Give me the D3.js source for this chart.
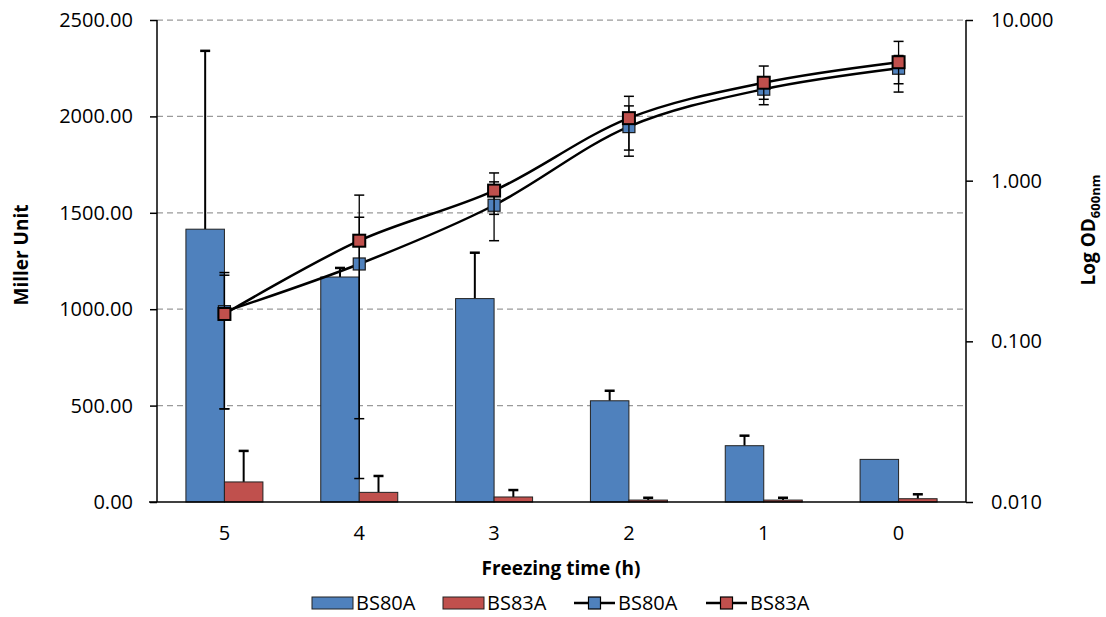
<!DOCTYPE html>
<html><head><meta charset="utf-8">
<script src="https://cdn.jsdelivr.net/npm/d3@7"></script>
<style>
html,body{margin:0;padding:0;background:#fff;}
text{font-family:"Open Sans",sans-serif;fill:#000;}
</style></head>
<body>
<svg id="chart" width="1106" height="617"></svg>
<script>
// ---- data ----
const categories = ["5", "4", "3", "2", "1", "0"];
const millerTicks = [0, 500, 1000, 1500, 2000, 2500];
const odTicks = [0.01, 0.1, 1, 10];
const bs80aMiller = [1415, 1167, 1055, 525, 292, 221];
const bs80aMillerErr = [925, 47, 238, 52, 52, 0];
const bs83aMiller = [104, 50, 26, 10, 10, 17];
const bs83aMillerErr = [161, 85, 36, 12, 12, 23];
const bs80aOD = [0.153, 0.303, 0.703, 2.17, 3.71, 5.01];
const bs80aODErr = [0.115, 0.289, 0.28, 0.75, 0.5, 1.0];
const bs83aOD = [0.148, 0.423, 0.867, 2.45, 4.07, 5.46];
const bs83aODErr = [0.11, 0.39, 0.25, 0.9, 1.1, 1.9];
const seriesNames = ["BS80A", "BS83A"];

const BLUE = "#4F81BD", RED = "#C0504D";
const svg = d3.select("#chart");
const L = 157, R = 966, T = 20, B = 502;

const x = d3.scaleBand().domain(categories).range([L, R]);
const yL = d3.scaleLinear().domain([0, 2500]).range([B, T]);
const yR = d3.scaleLog().domain([0.01, 10]).range([B, T]);

// gridlines
svg.append("g").selectAll("line").data(millerTicks.filter(d => d > 0)).join("line")
  .attr("x1", L).attr("x2", R).attr("y1", d => yL(d)).attr("y2", d => yL(d))
  .attr("stroke", "#9a9a9a").attr("stroke-width", 1.25).attr("stroke-dasharray", "6,4");

// bars
const barW = 38.5;
const bars = svg.append("g");
function drawBars(vals, errs, color, offset) {
  const g = bars.append("g");
  categories.forEach((c, i) => {
    const cx = x(c) + x.bandwidth() / 2;
    const x0 = cx + offset;
    if (errs[i] > 0) {
      g.append("line").attr("x1", x0 + barW / 2).attr("x2", x0 + barW / 2)
        .attr("y1", yL(vals[i])).attr("y2", yL(vals[i] + errs[i]))
        .attr("stroke", "#000").attr("stroke-width", 2);
      g.append("line").attr("x1", x0 + barW / 2 - 5).attr("x2", x0 + barW / 2 + 5)
        .attr("y1", yL(vals[i] + errs[i])).attr("y2", yL(vals[i] + errs[i]))
        .attr("stroke", "#000").attr("stroke-width", 2.5);
    }
    g.append("rect").attr("x", x0).attr("width", barW)
      .attr("y", yL(vals[i])).attr("height", B - yL(vals[i]))
      .attr("fill", color).attr("stroke", "#222").attr("stroke-width", 1);
  });
}
drawBars(bs80aMiller, bs80aMillerErr, BLUE, -barW);
drawBars(bs83aMiller, bs83aMillerErr, RED, 0);

// axes
const axL = svg.append("g").attr("transform", `translate(${L},0)`)
  .call(d3.axisLeft(yL).tickValues(millerTicks).tickFormat(d3.format(".2f")).tickSize(7).tickPadding(17));
const axR = svg.append("g").attr("transform", `translate(${R},0)`)
  .call(d3.axisRight(yR).tickValues(odTicks).tickFormat(d3.format(".3f")).tickSize(7).tickPadding(18));
const axB = svg.append("g").attr("transform", `translate(0,${B})`)
  .call(d3.axisBottom(x).tickSize(0).tickPadding(24));
[axL, axR, axB].forEach(a => {
  a.select(".domain").attr("stroke", "#000").attr("stroke-width", 1.5);
  a.selectAll(".tick line").attr("stroke", "#000").attr("stroke-width", 1.5);
  a.selectAll(".tick text").attr("font-size", 20).attr("font-family", "Open Sans").attr("fill", "#000");
});
axL.select(".domain").attr("d", `M0,${T}V${B}`);
axR.select(".domain").attr("d", `M0,${T}V${B}`);
axB.select(".domain").attr("d", `M${L - 8},0H${R}`);

// lines
const line = d3.line().x((d, i) => x(categories[i]) + x.bandwidth() / 2).y(d => yR(d))
  .curve(d3.curveCatmullRom.alpha(0.5));
function drawLine(vals, errs, color, mstroke, msw) {
  const g = svg.append("g");
  g.append("path").datum(vals).attr("d", line).attr("fill", "none")
    .attr("stroke", "#000").attr("stroke-width", 2.5);
  categories.forEach((c, i) => {
    const cx = x(c) + x.bandwidth() / 2;
    const hi = vals[i] + errs[i], lo = vals[i] - errs[i];
    g.append("line").attr("x1", cx).attr("x2", cx).attr("y1", yR(hi)).attr("y2", yR(lo))
      .attr("stroke", "#000").attr("stroke-width", 1.3);
    [hi, lo].forEach(v => g.append("line").attr("x1", cx - 5).attr("x2", cx + 5)
      .attr("y1", yR(v)).attr("y2", yR(v)).attr("stroke", "#000").attr("stroke-width", 1.5));
  });
  g.selectAll("rect").data(vals).join("rect")
    .attr("x", (d, i) => x(categories[i]) + x.bandwidth() / 2 - 6)
    .attr("y", d => yR(d) - 6).attr("width", 12).attr("height", 12)
    .attr("fill", color).attr("stroke", mstroke).attr("stroke-width", msw);
}
drawLine(bs80aOD, bs80aODErr, BLUE, "#1a1a1a", 1.2);
drawLine(bs83aOD, bs83aODErr, RED, "#000", 2);

// titles
svg.append("text").attr("transform", "translate(28,255) rotate(-90)")
  .attr("text-anchor", "middle").attr("font-size", 19).attr("font-weight", "bold").text("Miller Unit");
const rt = svg.append("text").attr("transform", "translate(1095,230) rotate(-90)")
  .attr("text-anchor", "middle").attr("font-size", 19).attr("font-weight", "bold");
rt.append("tspan").text("Log OD");
rt.append("tspan").attr("font-size", 13).attr("dy", 5).text("600nm");
svg.append("text").attr("x", 561).attr("y", 575).attr("text-anchor", "middle")
  .attr("font-size", 19).attr("font-weight", "bold").text("Freezing time (h)");

// legend
const lg = svg.append("g");
const ly = 603;
const legendItems = [
  {type: "bar", color: BLUE, name: seriesNames[0], x: 312},
  {type: "bar", color: RED, name: seriesNames[1], x: 443},
  {type: "line", color: BLUE, name: seriesNames[0], x: 574},
  {type: "line", color: RED, name: seriesNames[1], x: 706}
];
legendItems.forEach(it => {
  if (it.type === "bar") {
    lg.append("rect").attr("x", it.x).attr("y", ly - 6).attr("width", 41).attr("height", 12)
      .attr("fill", it.color).attr("stroke", "#222").attr("stroke-width", 1);
  } else {
    lg.append("line").attr("x1", it.x).attr("x2", it.x + 41).attr("y1", ly).attr("y2", ly)
      .attr("stroke", "#000").attr("stroke-width", 2.5);
    lg.append("rect").attr("x", it.x + 20.5 - 6).attr("y", ly - 6).attr("width", 12).attr("height", 12)
      .attr("fill", it.color).attr("stroke", "#000").attr("stroke-width", 1.2);
  }
  lg.append("text").attr("x", it.x + 44).attr("y", ly).attr("dy", "0.35em")
    .attr("font-size", 20).text(it.name);
});
</script>
</body></html>
